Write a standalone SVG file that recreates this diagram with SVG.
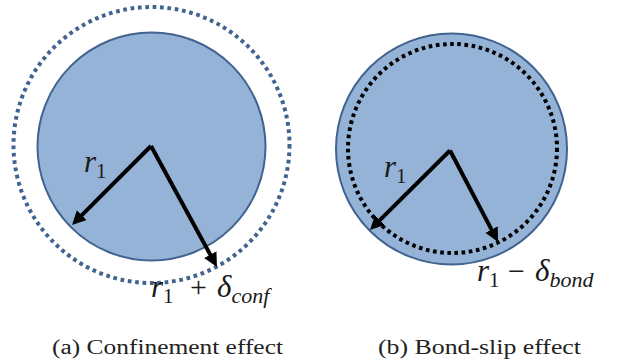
<svg xmlns="http://www.w3.org/2000/svg" width="618" height="363" viewBox="0 0 618 363">
<style>
.disk{fill:#95b3d7;stroke:#41638f;stroke-width:2}
.dotb{fill:none;stroke:#41638f;stroke-width:4;stroke-dasharray:3.7 3.7}
.dotk{fill:none;stroke:#000;stroke-width:4;stroke-dasharray:3.6 3.6}
.arr{fill:none;stroke:#000;stroke-width:4;marker-end:url(#ah)}
.m{font-family:"Liberation Serif",serif;font-style:italic;font-size:31px;fill:#1a1a1a}
.mn{font-family:"Liberation Serif",serif;font-size:21px;fill:#1a1a1a;font-style:normal}
.ms{font-family:"Liberation Serif",serif;font-style:italic;font-size:22px;fill:#1a1a1a}
.op{font-family:"Liberation Serif",serif;font-size:30px;fill:#1a1a1a}
.cap{font-family:"Liberation Serif",serif;font-size:20px;fill:#222}
</style>
<defs>
<marker id="ah" markerUnits="userSpaceOnUse" markerWidth="16" markerHeight="16" refX="4" refY="7" orient="auto">
<path d="M0,0 L14,7 L0,14 z" fill="#000"/>
</marker>
</defs>
<g id="fig-a">
<circle class="dotb" cx="151.5" cy="145" r="138"/>
<circle class="disk" cx="151.5" cy="146.5" r="114"/>
</g>
<g id="fig-b">
<circle class="disk" cx="451.5" cy="149" r="115.5"/>
<circle class="dotk" cx="452.5" cy="148.5" r="104.5"/>
</g>
<g id="connectors">
<path class="arr" d="M151,146 L79.1,217.9"/>
<path class="arr" d="M151,146 L212.2,258.2"/>
<path class="arr" d="M450,150.5 L377.1,222.9"/>
<path class="arr" d="M450,150.5 L493.4,233.1"/>
</g>
<g id="labels">
<text class="m" x="84" y="172">r<tspan class="mn" dy="6">1</tspan></text>
<text class="m" x="151" y="297">r<tspan class="mn" dy="6">1</tspan></text>
<text class="op" x="190" y="297">+</text>
<text class="m" x="217" y="297">δ<tspan class="ms" dy="6">conf</tspan></text>
<text class="m" x="384" y="177">r<tspan class="mn" dy="6">1</tspan></text>
<text class="m" x="477" y="281">r<tspan class="mn" dy="6">1</tspan></text>
<text class="op" x="508" y="281">−</text>
<text class="m" x="535" y="281">δ<tspan class="ms" dy="6">bond</tspan></text>
<text class="cap" x="52" y="354" textLength="231" lengthAdjust="spacingAndGlyphs">(a) Confinement effect</text>
<text class="cap" x="378" y="354" textLength="203" lengthAdjust="spacingAndGlyphs">(b) Bond-slip effect</text>
</g>
</svg>
